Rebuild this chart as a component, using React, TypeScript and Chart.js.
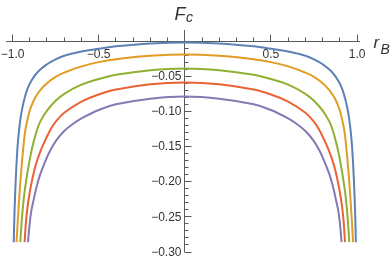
import { useEffect, useRef } from "react";
import { Chart, registerables } from "chart.js";

Chart.register(...registerables);

// ---- data (right half read, curves are mirror-symmetric) ----
const seriesNames = ["s1", "s2", "s3", "s4", "s5"];
const seriesColors = ["#5E81B5", "#E19C24", "#8FB032", "#EB6235", "#8778B3"];

const rB1 = [0, 0.2, 0.4, 0.5, 0.6, 0.7, 0.75, 0.8, 0.85, 0.89, 0.915, 0.935, 0.95, 0.96, 0.968, 0.975, 0.981, 0.986, 0.99, 0.993];
const Fc1 = [-0.002, -0.0035, -0.0075, -0.011, -0.015, -0.021, -0.026, -0.033, -0.043, -0.056, -0.069, -0.086, -0.104, -0.122, -0.141, -0.166, -0.195, -0.225, -0.255, -0.286];

const rB2 = [0, 0.2, 0.4, 0.5, 0.6, 0.7, 0.75, 0.8, 0.84, 0.87, 0.89, 0.905, 0.918, 0.927, 0.933, 0.94, 0.948, 0.956, 0.963, 0.97, 0.977];
const Fc2 = [-0.019, -0.021, -0.026, -0.03, -0.036, -0.045, -0.051, -0.06, -0.07, -0.081, -0.092, -0.103, -0.117, -0.129, -0.141, -0.158, -0.18, -0.205, -0.23, -0.257, -0.286];

const rB3 = [0, 0.2, 0.4, 0.5, 0.6, 0.7, 0.75, 0.8, 0.84, 0.86, 0.875, 0.89, 0.905, 0.92, 0.933, 0.945, 0.955];
const Fc3 = [-0.039, -0.0415, -0.048, -0.054, -0.062, -0.075, -0.085, -0.099, -0.115, -0.128, -0.141, -0.156, -0.175, -0.197, -0.22, -0.25, -0.286];

const rB4 = [0, 0.2, 0.4, 0.5, 0.6, 0.7, 0.75, 0.78, 0.81, 0.84, 0.865, 0.885, 0.9, 0.913, 0.922, 0.93];
const Fc4 = [-0.059, -0.0615, -0.069, -0.076, -0.086, -0.102, -0.115, -0.126, -0.141, -0.158, -0.176, -0.196, -0.215, -0.236, -0.257, -0.286];

const rB5 = [0, 0.2, 0.4, 0.5, 0.6, 0.65, 0.7, 0.745, 0.78, 0.81, 0.84, 0.86, 0.875, 0.89, 0.9, 0.91];
const Fc5 = [-0.079, -0.082, -0.09, -0.098, -0.11, -0.118, -0.128, -0.141, -0.155, -0.171, -0.19, -0.207, -0.223, -0.24, -0.258, -0.286];

const seriesX = [rB1, rB2, rB3, rB4, rB5];
const seriesY = [Fc1, Fc2, Fc3, Fc4, Fc5];

// ---- axes / ticks ----
const xMin = -1.038;
const xMax = 1.017;
const yMin = -0.3;
const yMax = 0.0157;
const xMajorTicks = [-1.0, -0.5, 0.5, 1.0];
const xTickLabels = ["\u22121.0", "\u22120.5", "0.5", "1.0"];
const yMajorTicks = [-0.05, -0.1, -0.15, -0.2, -0.25, -0.3];
const yTickLabels = ["\u22120.05", "\u22120.10", "\u22120.15", "\u22120.20", "\u22120.25", "\u22120.30"];
const xMinorStep = 0.1;
const yMinorStep = 0.01;

const AXIS_COLOR = "#5a5a5a";
const LABEL_COLOR = "#333333";
const TICK_FONT = "12px 'Liberation Sans', Arial, sans-serif";

const axesPlugin = {
  id: "mmaAxes",
  beforeDatasetsDraw(chart: any) {
    const ctx = chart.ctx as CanvasRenderingContext2D;
    const xs = chart.scales.x;
    const ys = chart.scales.y;
    const { left, right, top, bottom } = chart.chartArea;
    const x0 = Math.floor(xs.getPixelForValue(0)) + 0.5;
    const y0 = Math.floor(ys.getPixelForValue(0)) + 0.5;
    ctx.save();
    ctx.strokeStyle = AXIS_COLOR;
    ctx.lineWidth = 1;
    ctx.beginPath();
    ctx.moveTo(left, y0);
    ctx.lineTo(right, y0);
    ctx.moveTo(x0, top);
    ctx.lineTo(x0, bottom);
    for (let i = -10; i <= 10; i++) {
      if (i === 0) continue;
      const px = Math.floor(xs.getPixelForValue(i * xMinorStep)) + 0.5;
      const major = i % 5 === 0;
      ctx.moveTo(px, y0);
      ctx.lineTo(px, y0 - (major ? 7 : 4));
    }
    for (let i = 1; i <= 30; i++) {
      const py = Math.floor(ys.getPixelForValue(-i * yMinorStep)) + 0.5;
      const major = i % 5 === 0;
      ctx.moveTo(x0, py);
      ctx.lineTo(x0 + (major ? 7 : 4), py);
    }
    ctx.stroke();

    ctx.fillStyle = LABEL_COLOR;
    ctx.font = TICK_FONT;
    ctx.textAlign = "center";
    ctx.textBaseline = "top";
    xMajorTicks.forEach((v, i) => {
      ctx.fillText(xTickLabels[i], xs.getPixelForValue(v), y0 + 7);
    });
    ctx.textAlign = "right";
    ctx.textBaseline = "middle";
    yMajorTicks.forEach((v, i) => {
      ctx.fillText(yTickLabels[i], x0 - 3, ys.getPixelForValue(v) + 0.5);
    });

    ctx.textAlign = "left";
    ctx.textBaseline = "alphabetic";
    ctx.font = "italic 18px 'Liberation Sans', Arial, sans-serif";
    ctx.fillText("F", x0 - 10, 19.5);
    ctx.font = "italic 14px 'Liberation Sans', Arial, sans-serif";
    ctx.fillText("c", x0 + 1.5, 22);
    ctx.font = "italic 17px 'Liberation Sans', Arial, sans-serif";
    ctx.fillText("r", right + 13.5, y0 + 6);
    ctx.font = "italic 14px 'Liberation Sans', Arial, sans-serif";
    ctx.fillText("B", right + 20.5, y0 + 12.5);
    ctx.restore();
  },
};

// full curve from the read half: left side mirrors the right side
function curvePoints(xsArr: number[], ysArr: number[]) {
  const pts: { x: number; y: number }[] = [];
  for (let i = xsArr.length - 1; i >= 1; i--) pts.push({ x: -xsArr[i], y: ysArr[i] });
  for (let i = 0; i < xsArr.length; i++) pts.push({ x: xsArr[i], y: ysArr[i] });
  return pts;
}

export default function App() {
  const ref = useRef<HTMLCanvasElement | null>(null);
  useEffect(() => {
    document.body.style.margin = "0";
    if (!ref.current) return;
    const chart = new Chart(ref.current, {
      type: "line",
      data: {
        datasets: seriesX.map((xsArr, k) => ({
          label: seriesNames[k],
          data: curvePoints(xsArr, seriesY[k]),
          borderColor: seriesColors[k],
          borderWidth: 2,
          pointRadius: 0,
          fill: false,
          tension: 0.4,
        })),
      },
      options: {
        responsive: false,
        animation: false,
        events: [],
        layout: { padding: { left: 6, right: 32, top: 30, bottom: 9 } },
        plugins: { legend: { display: false }, tooltip: { enabled: false } },
        scales: {
          x: { type: "linear", min: xMin, max: xMax, display: false },
          y: { type: "linear", min: yMin, max: yMax, display: false },
        },
      },
      plugins: [axesPlugin],
    });
    return () => chart.destroy();
  }, []);
  return (
    <div style={{ width: 392, height: 261 }}>
      <canvas ref={ref} width={392} height={261} style={{ display: "block" }} />
    </div>
  );
}
